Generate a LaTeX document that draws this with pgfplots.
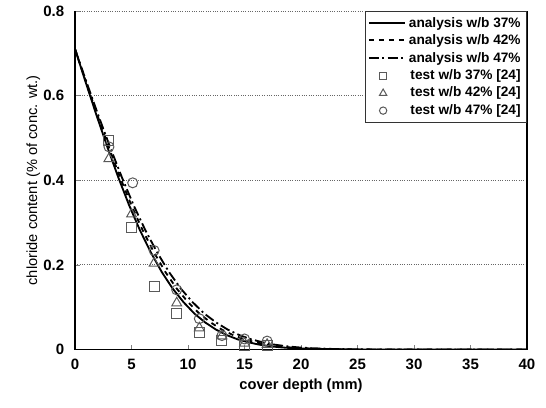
\documentclass[border=0pt]{standalone}
\usepackage{pgfplots}
\pgfplotsset{compat=1.18}
\usepackage{fontspec}
\setmainfont{Liberation Sans}
\pgfplotsset{
 longline/.style={legend image code/.code={\draw[##1,line width=1.3pt] (0cm,0.4pt) -- (0.75cm,0.4pt);}},
 onemark/.style={legend image code/.code={\draw[##1,mark size=#1] plot coordinates {(0.3cm,0cm)};}},
}
\begin{document}
\begin{tikzpicture}
\begin{axis}[name=ax,
 width=271pt,height=203pt,scale only axis,
 xmin=0,xmax=40,ymin=0,ymax=0.8,
 xtick={0,5,...,40},ytick={0,0.2,0.4,0.6,0.8},
 axis x line*=bottom,
 xtick pos=left,ytick pos=left,
 tick align=inside,
 major tick length=3pt,
 axis line style={line width=0.9pt},
 ymajorgrids,major grid style={densely dotted,black!60,line width=0.6pt},
 tick label style={font=\bfseries\fontsize{9}{10}\selectfont},
 xticklabel style={yshift=-2pt},
 yticklabel style={xshift=-3pt},
 /pgf/number format/assume math mode=true,
 yticklabel style={/pgf/number format/fixed,/pgf/number format/precision=1},
 xlabel={\bfseries cover depth (mm)},
 ylabel={chloride content (\% of conc. wt.)},
 label style={font=\fontsize{8.8}{10}\selectfont},
 xlabel style={yshift=1pt},
 ylabel style={yshift=-5pt},
 legend style={at={(1,1)},anchor=north east,font=\bfseries\fontsize{8.2}{9}\selectfont,
   draw=black!80,line width=0.6pt,inner sep=1.5pt,row sep=-1pt},
 legend cell align=right,
]
\addplot[black,line width=1.1pt,longline] coordinates {
(0,0.710)(0.96,0.630)(1.92,0.552)(2.88,0.477)(3.84,0.406)(4.8,0.340)(5.76,0.281)
(6.72,0.229)(7.68,0.183)(8.64,0.144)(9.6,0.112)(10.56,0.085)(11.52,0.064)(12.48,0.047)
(13.44,0.034)(14.4,0.024)(15.36,0.017)(16.32,0.0115)(17.28,0.0077)(18.24,0.0051)
(19.2,0.0033)(21.12,0.0013)(24,0.0003)(28.8,0)(40,0)};
\addlegendentry{analysis w/b 37\%}
\addplot[black,line width=1.1pt,dashed,longline] coordinates {
(0,0.710)(1,0.630)(2,0.552)(3,0.477)(4,0.406)(5,0.340)(6,0.281)
(7,0.229)(8,0.183)(9,0.144)(10,0.112)(11,0.085)(12,0.064)(13,0.047)
(14,0.034)(15,0.024)(16,0.017)(17,0.0115)(18,0.0077)(19,0.0051)
(20,0.0033)(22,0.0013)(25,0.0003)(30,0)(40,0)};
\addlegendentry{analysis w/b 42\%}
\addplot[black,line width=1.1pt,dash pattern=on 6pt off 2pt on 1.2pt off 2pt,longline] coordinates {
(0,0.710)(1.04,0.630)(2.08,0.552)(3.12,0.477)(4.16,0.406)(5.2,0.340)(6.24,0.281)
(7.28,0.229)(8.32,0.183)(9.36,0.144)(10.4,0.112)(11.44,0.085)(12.48,0.064)(13.52,0.047)
(14.56,0.034)(15.6,0.024)(16.64,0.017)(17.68,0.0115)(18.72,0.0077)(19.76,0.0051)
(20.8,0.0033)(22.88,0.0013)(26,0.0003)(31.2,0)(40,0)};
\addlegendentry{analysis w/b 47\%}
\addplot[only marks,mark=square,mark size=3pt,black!65,line width=0.6pt,onemark=2.2pt] coordinates {
(3,0.493)(5,0.289)(7,0.149)(9,0.084)(11,0.041)(13,0.021)(15,0.010)(17,0.010)};
\addlegendentry{test w/b 37\% [24]}
\addplot[only marks,mark=triangle,mark size=3.4pt,black!65,line width=0.6pt,onemark=2.5pt] coordinates {
(3,0.451)(5,0.320)(7,0.204)(9,0.110)(11,0.051)(13,0.032)(15,0.015)(17,0.012)};
\addlegendentry{test w/b 42\% [24]}
\addplot[only marks,mark=o,mark size=3pt,black!65,line width=0.6pt,onemark=2.2pt] coordinates {
(3,0.479)(5.1,0.394)(7,0.234)(9,0.141)(11,0.073)(13,0.033)(15,0.025)(17,0.020)};
\addlegendentry{test w/b 47\% [24]}
\end{axis}
\pgfresetboundingbox
\path (ax.south west) ++(-45pt,-34.8pt) rectangle ([shift={(11.4pt,6.6pt)}]ax.north east);
\end{tikzpicture}
\end{document}
